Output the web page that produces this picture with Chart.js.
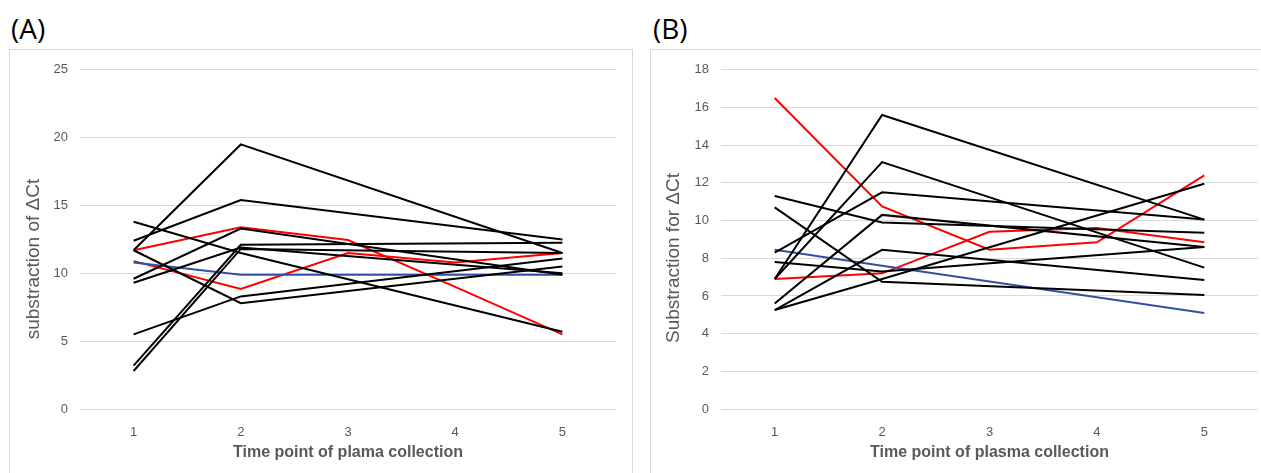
<!DOCTYPE html>
<html>
<head>
<meta charset="utf-8">
<script src="https://cdn.jsdelivr.net/npm/chart.js@4.4.1/dist/chart.umd.min.js"></script>
<style>
  body { margin: 0; background: #fff; width: 1261px; height: 473px; overflow: hidden; position: relative; font-family: "Liberation Sans", Arial, sans-serif; }
  .tag { position: absolute; top: 9px; font-family: "Open Sans", "Noto Sans", sans-serif; font-size: 28px; color: #000; }
  .panel { position: absolute; top: 49px; border: 1px solid #d9d9d9; }
  canvas { position: absolute; left: 0; top: 0; }
  .ytitle { position: absolute; width: 300px; height: 24px; line-height: 24px; text-align: center; font-size: 19px; color: #595959;
            transform: translate(-50%, -50%) rotate(-90deg); white-space: nowrap; }
</style>
</head>
<body>
<div class="tag" style="left:11px">(A)</div>
<div class="tag" style="left:653px">(B)</div>
<div class="panel" style="left:9px; width:622px; height:440px;"><canvas id="chartA" width="620" height="423"></canvas></div>
<div class="panel" style="left:650px; width:620px; height:440px;"><canvas id="chartB" width="610" height="423"></canvas></div>
<div class="ytitle" style="left:33px; top:259px;">substraction of ΔCt</div>
<div class="ytitle" style="left:673px; top:258px;">Substraction for ΔCt</div>
<script>
const timePoints = ["1", "2", "3", "4", "5"];

// panel A
const blackA1 = [11.7, 19.5, null, null, 11.5];
const blackA2 = [12.4, 15.4, null, null, 12.5];
const blackA3 = [11.7, 7.8, null, null, 10.5];
const blackA4 = [5.5, 8.3, null, null, 11.1];
const blackA5 = [13.8, 11.5, null, null, 5.7];
const blackA6 = [9.6, 13.3, null, null, 9.9];
const blackA7 = [9.3, 11.9, null, null, 10.0];
const blackA8 = [3.2, 12.1, null, null, 12.25];
const blackA9 = [2.8, 11.8, null, null, 11.5];
const redA1 = [11.7, 13.4, 12.45, 9.0, 5.5];
const redA2 = [10.9, 8.85, 11.5, 10.8, 11.5];
const blueA = [10.8, 9.9, 9.9, 9.9, 9.9];

// panel B
const blackB1 = [11.3, 9.9, null, null, 9.35];
const blackB2 = [10.7, 6.75, null, null, 6.05];
const blackB3 = [8.3, 11.5, null, null, 10.05];
const blackB4 = [7.8, 7.3, null, null, 8.6];
const blackB5 = [6.9, 15.6, null, null, 10.05];
const blackB6 = [6.9, 13.1, null, null, 7.5];
const blackB7 = [5.6, 10.3, null, null, 8.6];
const blackB8 = [5.25, 8.45, null, null, 6.85];
const blackB9 = [5.25, 6.9, null, null, 11.95];
const redB1 = [16.5, 10.75, 8.45, 8.85, 12.4];
const redB2 = [6.9, 7.2, 9.4, 9.6, 8.85];
const blueB = [8.45, 7.6, null, null, 5.1];

const GRAY = "#595959";
const FONT = "'Liberation Sans', Arial, sans-serif";

function line(data, color) {
    return { data: data, borderColor: color, borderWidth: 2, pointRadius: 0, tension: 0, spanGaps: true, fill: false };
}

function makeChart(id, sets, yMax, yStep, xTitle, padRight) {
    return new Chart(document.getElementById(id).getContext("2d"), {
        type: "line",
        data: { labels: timePoints, datasets: sets },
        options: {
            responsive: false,
            animation: false,
            layout: { padding: { top: 14, right: padRight, left: 0, bottom: 0 } },
            plugins: { legend: { display: false }, tooltip: { enabled: false } },
            scales: {
                x: {
                    offset: true,
                    grid: { display: false },
                    border: { display: false },
                    ticks: { color: GRAY, font: { family: FONT, size: 13 }, padding: 8 },
                    title: { display: true, text: xTitle, color: GRAY, font: { family: FONT, size: 16, weight: "bold" }, padding: { top: 0, bottom: 11 } },
                    afterFit: (s) => { s.height = 64; }
                },
                y: {
                    min: 0, max: yMax,
                    ticks: { stepSize: yStep, color: GRAY, font: { family: FONT, size: 13 }, padding: 12 },
                    grid: { color: "#d9d9d9", lineWidth: 1, drawTicks: false },
                    border: { display: false },
                    afterFit: (s) => { s.width = 70; }
                }
            }
        }
    });
}

makeChart("chartA", [
    line(blackA1, "#000"), line(blackA2, "#000"), line(blackA3, "#000"),
    line(blackA4, "#000"), line(blackA5, "#000"), line(blackA6, "#000"),
    line(blackA7, "#000"), line(blackA8, "#000"), line(blackA9, "#000"),
    line(blueA, "#2f52a0"), line(redA1, "#ff0000"), line(redA2, "#ff0000")
], 25, 5, "Time point of plama collection", 14);

makeChart("chartB", [
    line(blackB1, "#000"), line(blackB2, "#000"), line(blackB3, "#000"),
    line(blackB4, "#000"), line(blackB5, "#000"), line(blackB6, "#000"),
    line(blackB7, "#000"), line(blackB8, "#000"), line(blackB9, "#000"),
    line(blueB, "#2f52a0"), line(redB1, "#ff0000"), line(redB2, "#ff0000")
], 18, 2, "Time point of plasma collection", 3);
</script>
</body>
</html>
